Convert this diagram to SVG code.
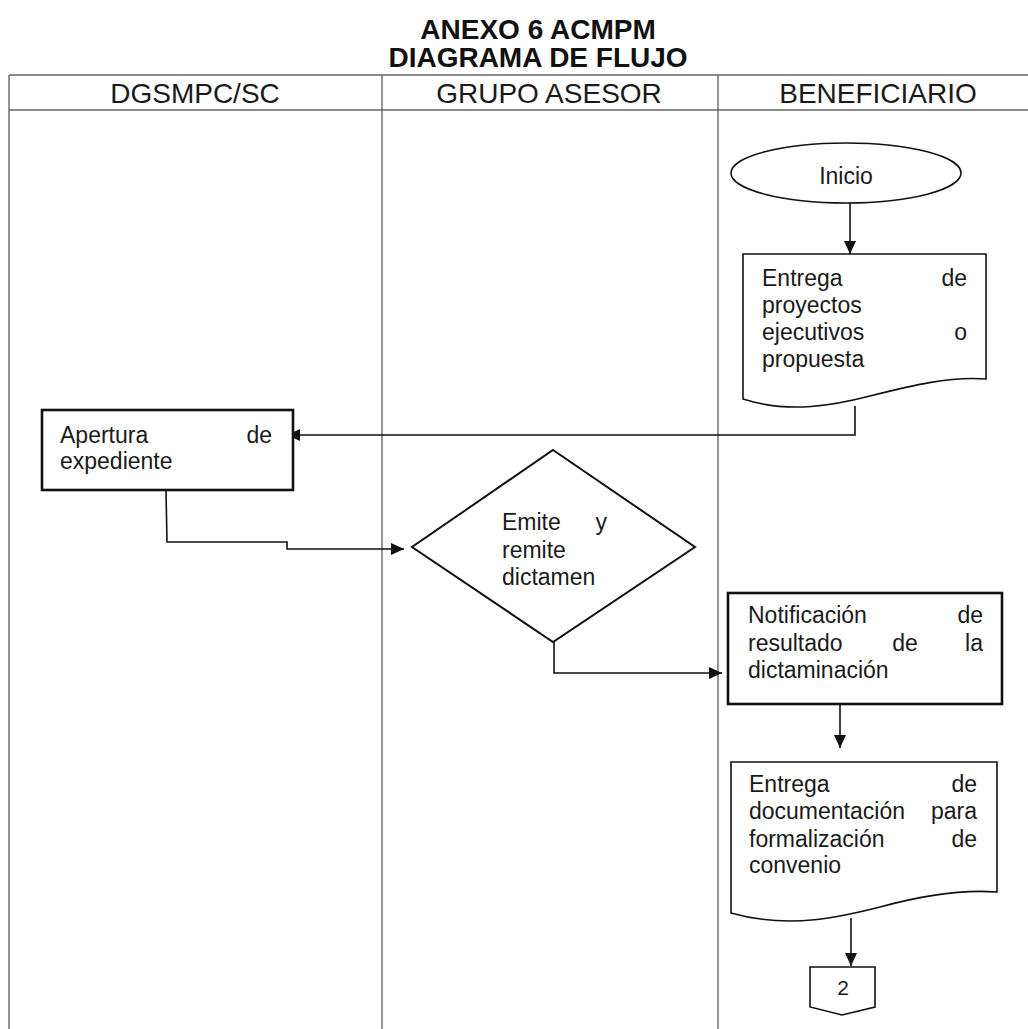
<svg xmlns="http://www.w3.org/2000/svg" width="1028" height="1029" viewBox="0 0 1028 1029">
<defs>
<style>
.lane{stroke:#666;stroke-width:1.4;fill:none}
.t{font-family:"Liberation Sans",Arial,sans-serif;font-size:23px;fill:#1a1a1a}
.h{font-family:"Liberation Sans",Arial,sans-serif;font-size:28px;fill:#1a1a1a;text-anchor:middle}
.ti{font-family:"Liberation Sans",Arial,sans-serif;font-size:28px;font-weight:bold;fill:#111;text-anchor:middle}
.r{text-anchor:end}
.box{fill:#fff;stroke:#111;stroke-width:2.6}
.shape{fill:#fff;stroke:#111;stroke-width:1.6}
.conn{fill:none;stroke:#111;stroke-width:1.6}
</style>
<marker id="arr" markerUnits="userSpaceOnUse" markerWidth="14" markerHeight="12" refX="13" refY="6" orient="auto">
<path d="M0,0 L13,6 L0,12 Z" fill="#111"/>
</marker>
</defs>
<rect width="1028" height="1029" fill="#fff"/>
<g id="title">
<text class="ti" x="538" y="39">ANEXO 6 ACMPM</text>
<text class="ti" x="538" y="67">DIAGRAMA DE FLUJO</text>
</g>
<g id="lanes">
<line class="lane" x1="9" y1="75" x2="1028" y2="75"/>
<line class="lane" x1="9" y1="110" x2="1028" y2="110"/>
<line class="lane" x1="9" y1="75" x2="9" y2="1029"/>
<line class="lane" x1="382" y1="75" x2="382" y2="1029"/>
<line class="lane" x1="718" y1="75" x2="718" y2="1029"/>
<text class="h" x="195" y="103">DGSMPC/SC</text>
<text class="h" x="549" y="103">GRUPO ASESOR</text>
<text class="h" x="878" y="103">BENEFICIARIO</text>
</g>
<g id="connectors">
<line class="conn" x1="850" y1="203" x2="850" y2="254" marker-end="url(#arr)"/>
<polyline class="conn" points="855,406 855,435 287,435" marker-end="url(#arr)"/>
<polyline class="conn" points="166,490 167,542 287,542 287,549 404,549" marker-end="url(#arr)"/>
<polyline class="conn" points="554,642 554,673 722,673" marker-end="url(#arr)"/>
<line class="conn" x1="840" y1="704" x2="840" y2="748" marker-end="url(#arr)"/>
<line class="conn" x1="851" y1="918" x2="851" y2="966" marker-end="url(#arr)"/>
</g>
<g id="inicio">
<ellipse class="shape" cx="846" cy="173" rx="115" ry="30"/>
<text class="t" x="846" y="184" text-anchor="middle">Inicio</text>
</g>
<g id="entrega-proyectos">
<path class="shape" d="M743,254 H986 V379 C950,376 910,386 870,396 C835,405 790,414 743,399 Z"/>
<text class="t" x="762" y="286">Entrega</text><text class="t r" x="967" y="286">de</text>
<text class="t" x="762" y="313">proyectos</text>
<text class="t" x="762" y="340">ejecutivos</text><text class="t r" x="967" y="340">o</text>
<text class="t" x="762" y="367">propuesta</text>
</g>
<g id="apertura">
<rect class="box" x="42" y="410" width="251" height="80"/>
<text class="t" x="60" y="443">Apertura</text><text class="t r" x="272" y="443">de</text>
<text class="t" x="60" y="469">expediente</text>
</g>
<g id="dictamen">
<polygon class="shape" style="stroke-width:2" points="553,450 695,547 553,642 412,547"/>
<text class="t" x="502" y="530">Emite</text><text class="t r" x="607" y="530">y</text>
<text class="t" x="502" y="558">remite</text>
<text class="t" x="502" y="585">dictamen</text>
</g>
<g id="notificacion">
<rect class="box" x="728" y="593" width="274" height="111"/>
<text class="t" x="748" y="623">Notificación</text><text class="t r" x="983" y="623">de</text>
<text class="t" x="748" y="651">resultado</text><text class="t" x="905" y="651" text-anchor="middle">de</text><text class="t r" x="983" y="651">la</text>
<text class="t" x="748" y="678">dictaminación</text>
</g>
<g id="entrega-documentacion">
<path class="shape" d="M731,762 H997 V892 C960,889 920,896 880,907 C845,916 790,930 731,913 Z"/>
<text class="t" x="749" y="792">Entrega</text><text class="t r" x="977" y="792">de</text>
<text class="t" x="749" y="819">documentación</text><text class="t r" x="977" y="819">para</text>
<text class="t" x="749" y="847">formalización</text><text class="t r" x="977" y="847">de</text>
<text class="t" x="749" y="873">convenio</text>
</g>
<g id="conector-2">
<polygon class="shape" points="810,967 875,967 875,1007 842,1015 810,1007"/>
<text class="t" x="843" y="995" text-anchor="middle" style="font-size:21px">2</text>
</g>
</svg>
